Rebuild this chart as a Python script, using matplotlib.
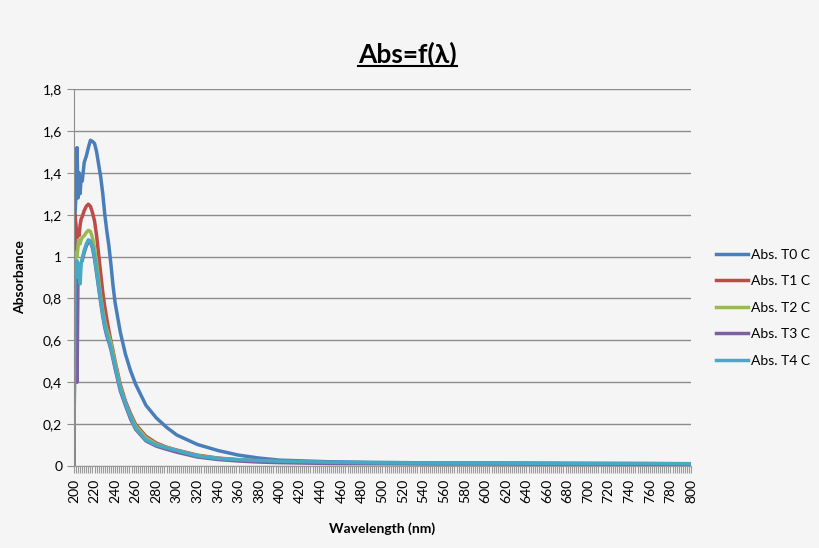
import matplotlib
matplotlib.use('Agg')
import matplotlib.pyplot as plt
from matplotlib.lines import Line2D
import numpy as np

plt.rcParams['font.family'] = ['Lato', 'DejaVu Sans']

wavelength = [200, 201, 202, 203, 204, 205, 206, 207, 208, 210, 212, 214, 216, 218, 220,
              222, 224, 226, 228, 230, 232, 234, 236, 238, 240, 245, 250, 255, 260, 270,
              280, 290, 300, 320, 340, 360, 380, 400, 450, 500, 550, 600, 650, 700, 750, 800]

abs_t0 = [0.0, 1.20, 1.30, 1.52, 1.28, 1.40, 1.30, 1.38, 1.36, 1.45, 1.48, 1.52, 1.555, 1.55, 1.54,
          1.50, 1.44, 1.38, 1.30, 1.20, 1.12, 1.05, 0.96, 0.86, 0.78, 0.64, 0.535, 0.455, 0.39, 0.29,
          0.23, 0.185, 0.148, 0.103, 0.074, 0.052, 0.038, 0.028, 0.02, 0.017, 0.015, 0.015, 0.014, 0.013, 0.012, 0.011]
abs_t1 = [0.0, 1.20, 1.15, 1.09, 1.12, 1.10, 1.15, 1.18, 1.19, 1.22, 1.24, 1.25, 1.24, 1.21, 1.17,
          1.10, 1.01, 0.92, 0.83, 0.76, 0.70, 0.645, 0.595, 0.55, 0.50, 0.39, 0.31, 0.25, 0.198, 0.142,
          0.11, 0.09, 0.076, 0.052, 0.038, 0.030, 0.025, 0.021, 0.016, 0.014, 0.012, 0.012, 0.011, 0.010, 0.010, 0.009]
abs_t2 = [0.0, 0.95, 1.02, 1.00, 1.05, 1.08, 1.06, 1.08, 1.09, 1.10, 1.115, 1.125, 1.12, 1.09, 1.04,
          0.97, 0.89, 0.81, 0.745, 0.69, 0.65, 0.62, 0.585, 0.54, 0.49, 0.38, 0.30, 0.24, 0.19, 0.135,
          0.105, 0.088, 0.073, 0.05, 0.036, 0.029, 0.024, 0.020, 0.015, 0.013, 0.012, 0.012, 0.011, 0.010, 0.010, 0.009]
abs_t3 = [0.0, 0.95, 0.90, 0.40, 0.95, 0.92, 0.95, 0.97, 0.98, 1.02, 1.05, 1.07, 1.07, 1.04, 0.99,
          0.92, 0.85, 0.78, 0.715, 0.66, 0.62, 0.59, 0.555, 0.51, 0.465, 0.36, 0.29, 0.225, 0.175, 0.12,
          0.095, 0.08, 0.066, 0.043, 0.031, 0.024, 0.019, 0.016, 0.012, 0.011, 0.010, 0.010, 0.009, 0.009, 0.008, 0.008]
abs_t4 = [0.0, 0.97, 0.93, 0.98, 0.90, 0.95, 0.87, 0.97, 0.99, 1.03, 1.06, 1.08, 1.075, 1.05, 1.00,
          0.93, 0.86, 0.79, 0.725, 0.67, 0.63, 0.60, 0.565, 0.52, 0.475, 0.37, 0.30, 0.235, 0.18, 0.125,
          0.10, 0.087, 0.074, 0.048, 0.036, 0.030, 0.026, 0.023, 0.018, 0.015, 0.014, 0.014, 0.013, 0.012, 0.012, 0.011]

series = [
    ('Abs. T0 C', abs_t0, '#4a7ebb'),
    ('Abs. T1 C', abs_t1, '#be4b48'),
    ('Abs. T2 C', abs_t2, '#98b954'),
    ('Abs. T3 C', abs_t3, '#7d60a0'),
    ('Abs. T4 C', abs_t4, '#46aac5'),
]

bg = '#f5f5f5'
fig = plt.figure(figsize=(8.2, 5.48), dpi=100, facecolor=bg)
ax = fig.add_axes([0.0902, 0.1496, 0.7525, 0.688])
ax.set_facecolor(bg)

for name, vals, col in series:
    ax.plot(wavelength, vals, color=col, lw=2.5, label=name, solid_joinstyle='round')

ax.set_xlim(200, 800)
ax.set_ylim(0, 1.8)

yt = np.arange(0, 1.81, 0.2)
ax.set_yticks(yt)
ax.set_yticklabels([format(round(v, 1), 'g').replace('.', ',') for v in yt], fontsize=10)
ax.yaxis.grid(True, color='#8c8c8c', lw=1)
ax.set_axisbelow(True)

xt = np.arange(200, 801, 20)
ax.set_xticks(xt)
ax.set_xticklabels([str(v) for v in xt], rotation=90, fontsize=10)
ax.set_xticks(np.arange(200, 801, 2), minor=True)
ax.tick_params(axis='x', which='both', length=5, width=0.8, color='#9a9a9a', pad=4)
ax.tick_params(axis='y', length=5, width=0.8, color='#8c8c8c')

for s in ['top', 'right']:
    ax.spines[s].set_visible(False)
ax.spines['left'].set_color('#8c8c8c')
ax.spines['bottom'].set_color('#9a9a9a')

ax.set_xlabel('Wavelength (nm)', fontsize=10, fontweight='bold', labelpad=14)
ax.set_ylabel('Absorbance', fontsize=10, fontweight='bold', labelpad=12)

leg = ax.legend(loc='center left', bbox_to_anchor=(1.02, 0.42), frameon=False,
                fontsize=10, handlelength=2.3, handletextpad=0.25, labelspacing=1.05)

title = fig.text(0.497, 0.9, 'Abs=f(λ)', ha='center', va='center',
                 fontsize=19, fontweight='bold')
fig.canvas.draw()
bb = title.get_window_extent().transformed(fig.transFigure.inverted())
fig.add_artist(Line2D([bb.x0, bb.x1], [bb.y0 + 0.002, bb.y0 + 0.002],
                      transform=fig.transFigure, color='black', lw=1.5))

fig.savefig('out.png', dpi=100, facecolor=bg)
